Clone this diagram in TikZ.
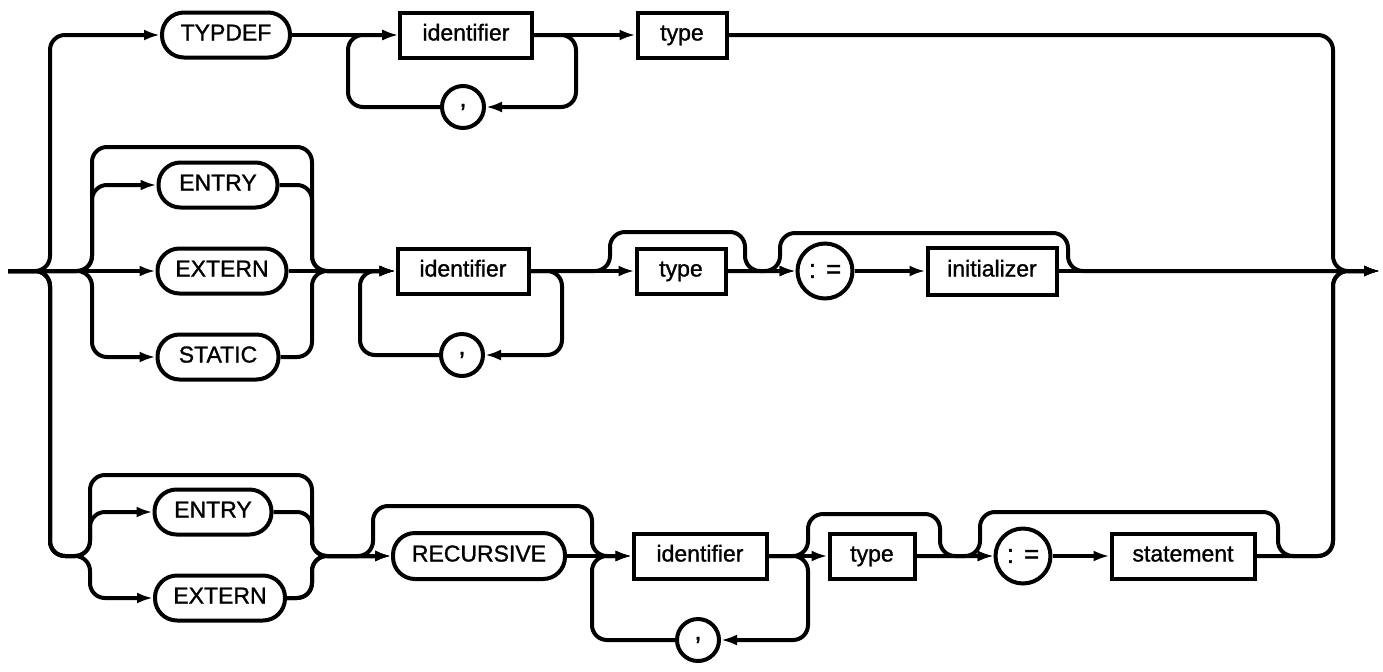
\documentclass[tikz,border=0pt]{standalone}
\usepackage{fontspec}
\setmainfont{Liberation Sans}
\newfontfamily\railfont{Liberation Sans}[FakeBold=1.2]
\usetikzlibrary{arrows.meta}

\begin{document}
\begin{tikzpicture}[x=0.5pt, y=-0.5pt, line width=2pt,
  every node/.style={font=\railfont\fontsize{11.5}{13}\selectfont},
  kw/.style={draw, rounded corners=11pt, minimum height=22.5pt, inner sep=0pt, text height=8pt, text depth=2.5pt},
  nt/.style={draw, minimum height=22.5pt, inner sep=0pt, text height=8pt, text depth=2.5pt},
  sym/.style={draw, circle, inner sep=0pt, font=\railfont\fontsize{13}{15}\selectfont},
  rail/.style={draw, rounded corners=7.5pt},
  go/.style={rail, -{Latex[length=8pt, width=5.5pt]}}]
\useasboundingbox (0,0) rectangle (1383,671);

\coordinate (in) at (8,271);
\coordinate (xr) at (1333,271);
\coordinate (out) at (1380,271);

% TYPDEF row
\node[kw, minimum width=64pt] (typdef) at (226,35) {TYPDEF};
\node[nt, minimum width=66pt] (id1) at (466,35) {identifier};
\node[nt, minimum width=44.5pt] (type1) at (682,35) {type};
\node[sym, minimum size=21pt] (comma1) at (463,107) {,};
\path[go] (in) -| (50,35) -- (typdef);
\path[go] (typdef) -- (id1);
\path[go] (id1) -| (576,107) -- (comma1);
\path[go] (comma1) -| (348,35) -- (id1);
\path[go] (id1) -- (type1);
\path[go] (type1) -| (xr) -- (out);

% ENTRY / EXTERN / STATIC row
\node[kw, minimum width=59.5pt] (entry1) at (218,185) {ENTRY};
\node[kw, minimum width=64.5pt] (extern1) at (222,271) {EXTERN};
\node[kw, minimum width=60.5pt] (static) at (218,357) {STATIC};
\node[nt, minimum width=65.5pt] (id2) at (463,271) {identifier};
\node[sym, minimum size=21pt] (comma2) at (462,355) {,};
\node[nt, minimum width=44.5pt] (type2) at (681,271) {type};
\node[sym, minimum size=27.5pt] (assign1) at (825,271) {:\hspace{5pt}=};
\node[nt, minimum width=64.5pt, minimum height=23.5pt] (init) at (992,271) {initializer};
\path[go] (in) -- (extern1);
\path[go] (in) -| (92,185) -- (entry1);
\path[go] (in) -| (92,357) -- (static);
\path[go] (in) -| (92,147) -| (312,271) -- (id2);
\path[go] (entry1) -| (312,271) -- (id2);
\path[go] (static) -| (312,271) -- (id2);
\path[go] (extern1) -- (id2);
\path[go] (id2) -| (562,355) -- (comma2);
\path[go] (comma2) -| (360,271) -- (id2);
\path[go] (id2) -- (type2);
\path[go] (id2) -| (610,232) -| (745,271) -- (assign1);
\path[go] (type2) -- (assign1);
\path[go] (assign1) -- (init);
\path[go] (type2) -| (780,233) -| (1068,271) -- (out);
\path[go] (init) -- (out);

% ENTRY / EXTERN RECURSIVE row
\node[kw, minimum width=58.5pt] (entry2) at (213,512) {ENTRY};
\node[kw, minimum width=65pt] (extern2) at (220,598) {EXTERN};
\node[kw, minimum width=86pt, minimum height=23pt] (recursive) at (479,556) {RECURSIVE};
\node[nt, minimum width=66.5pt] (id3) at (700,556) {identifier};
\node[sym, minimum size=21pt] (comma3) at (698,640) {,};
\node[nt, minimum width=42.5pt] (type3) at (872,556) {type};
\node[sym, minimum size=27.5pt] (assign2) at (1023,556) {:\hspace{5pt}=};
\node[nt, minimum width=71.5pt] (stmt) at (1183,556) {statement};
\path[go] (in) -| (50,556) -| (90,512) -- (entry2);
\path[go] (in) -| (50,556) -| (90,598) -- (extern2);
\path[go] (in) -| (50,556) -| (90,475) -| (312,556) -- (recursive);
\path[go] (entry2) -| (312,556) -- (recursive);
\path[go] (extern2) -| (312,556) -- (recursive);
\path[go] (extern2) -| (312,556) -| (373,506) -| (592,556) -- (id3);
\path[go] (recursive) -- (id3);
\path[go] (id3) -| (808,640) -- (comma3);
\path[go] (comma3) -| (592,556) -- (id3);
\path[go] (id3) -- (type3);
\path[go] (id3) -| (808,514) -| (940,556) -- (assign2);
\path[go] (type3) -- (assign2);
\path[go] (assign2) -- (stmt);
\path[go] (type3) -| (980,512) -| (1278,556) -| (xr) -- (out);
\path[go] (stmt) -| (xr) -- (out);
\end{tikzpicture}
\end{document}
